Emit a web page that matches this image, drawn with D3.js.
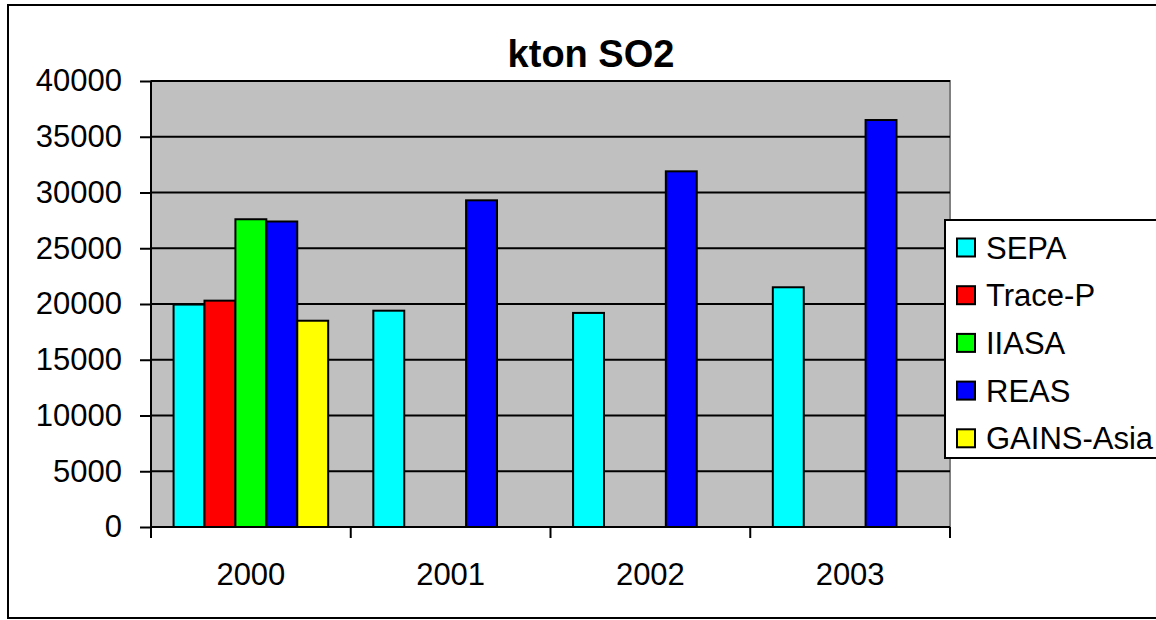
<!DOCTYPE html>
<html>
<head>
<meta charset="utf-8">
<script src="https://cdn.jsdelivr.net/npm/d3@7"></script>
<style>
  body { margin: 0; background: #fff; }
  svg { display: block; font-family: "Liberation Sans", Arial, sans-serif; }
</style>
</head>
<body>
<svg width="1156" height="620"></svg>
<script>
var years = ["2000", "2001", "2002", "2003"];
var seriesNames = ["SEPA", "Trace-P", "IIASA", "REAS", "GAINS-Asia"];
var seriesColors = ["#00ffff", "#ff0000", "#00ff00", "#0000ff", "#ffff00"];
var sepa = [19950, 19400, 19200, 21500];
var traceP = [20300, null, null, null];
var iiasa = [27600, null, null, null];
var reas = [27400, 29300, 31900, 36500];
var gains = [18500, null, null, null];
var yTicks = [0, 5000, 10000, 15000, 20000, 25000, 30000, 35000, 40000];

var seriesValues = [sepa, traceP, iiasa, reas, gains];

var svg = d3.select("svg"),
    margin = {top: 81, left: 151},
    width = 799,
    height = 446;

// outer chart border
svg.append("rect")
    .attr("x", 8).attr("y", 5)
    .attr("width", 1170).attr("height", 613)
    .attr("fill", "#fff")
    .attr("stroke", "#000")
    .attr("stroke-width", 2);

svg.append("text")
    .attr("x", 591).attr("y", 67)
    .attr("text-anchor", "middle")
    .style("font-size", "38px")
    .style("font-weight", "bold")
    .text("kton SO2");

var x0 = d3.scaleBand().domain(years).range([0, width]).paddingInner(0).paddingOuter(0);
var x1 = d3.scaleBand().domain(seriesNames).range([0, x0.bandwidth()]).paddingInner(0).paddingOuter(0.73);
var y = d3.scaleLinear().domain([0, 40000]).range([height, 0]);

var g = svg.append("g")
    .attr("transform", "translate(" + margin.left + "," + margin.top + ")");

g.append("rect")
    .attr("width", width).attr("height", height)
    .attr("fill", "#c0c0c0")
    .attr("stroke", "#808080")
    .attr("stroke-width", 2);

// gridlines
g.selectAll(".grid")
    .data(yTicks.slice(1))
    .enter().append("line")
      .attr("class", "grid")
      .attr("x1", 0).attr("x2", width)
      .attr("y1", function(d) { return y(d); })
      .attr("y2", function(d) { return y(d); })
      .attr("stroke", "#000")
      .attr("stroke-width", 2);

// bars
var flat = [];
years.forEach(function(yr, i) {
  seriesNames.forEach(function(s, j) {
    if (seriesValues[j][i] != null)
      flat.push({year: yr, series: s, value: seriesValues[j][i], color: seriesColors[j]});
  });
});

g.selectAll(".bar")
    .data(flat)
    .enter().append("rect")
      .attr("class", "bar")
      .attr("x", function(d) { return x0(d.year) + x1(d.series); })
      .attr("y", function(d) { return y(d.value); })
      .attr("width", x1.bandwidth())
      .attr("height", function(d) { return height - y(d.value); })
      .attr("fill", function(d) { return d.color; })
      .attr("stroke", "#000")
      .attr("stroke-width", 2);

// y axis
var yAxis = g.append("g")
    .call(d3.axisLeft(y).tickValues(yTicks).tickSize(11).tickPadding(18).tickFormat(d3.format("d")));
yAxis.select(".domain").attr("stroke", "#000").attr("stroke-width", 2).attr("d", "M0," + height + "V0");
yAxis.selectAll(".tick line").attr("stroke", "#000").attr("stroke-width", 2);
yAxis.selectAll(".tick text")
    .attr("fill", "#000")
    .style("font-size", "31px")
    .style("font-family", "'Liberation Sans', Arial, sans-serif");

// x axis, ticks at category boundaries
var xAxis = g.append("g")
    .attr("transform", "translate(0," + height + ")");
xAxis.append("line")
    .attr("x1", 0).attr("x2", width)
    .attr("stroke", "#000").attr("stroke-width", 2);
xAxis.selectAll(".xt")
    .data(years.concat(["end"]))
    .enter().append("line")
      .attr("class", "xt")
      .attr("x1", function(d, i) { return i * x0.step(); })
      .attr("x2", function(d, i) { return i * x0.step(); })
      .attr("y1", 0).attr("y2", 11)
      .attr("stroke", "#000").attr("stroke-width", 2);
xAxis.selectAll(".xl")
    .data(years)
    .enter().append("text")
      .attr("class", "xl")
      .attr("x", function(d) { return x0(d) + x0.bandwidth() / 2; })
      .attr("y", 58)
      .attr("text-anchor", "middle")
      .style("font-size", "31px")
      .text(function(d) { return d; });

// legend
var legend = svg.append("g").attr("transform", "translate(945,220)");
legend.append("rect")
    .attr("width", 230).attr("height", 238)
    .attr("fill", "#fff")
    .attr("stroke", "#000")
    .attr("stroke-width", 2);
var item = legend.selectAll(".item")
    .data(seriesNames)
    .enter().append("g")
      .attr("class", "item")
      .attr("transform", function(d, i) { return "translate(0," + (27.5 + i * 47.7) + ")"; });
item.append("rect")
    .attr("x", 12).attr("y", -9)
    .attr("width", 18).attr("height", 18)
    .attr("fill", function(d, i) { return seriesColors[i]; })
    .attr("stroke", "#000")
    .attr("stroke-width", 2);
item.append("text")
    .attr("x", 41).attr("y", 0)
    .attr("dy", "0.36em")
    .style("font-size", "31px")
    .text(function(d) { return d; });
</script>
</body>
</html>
